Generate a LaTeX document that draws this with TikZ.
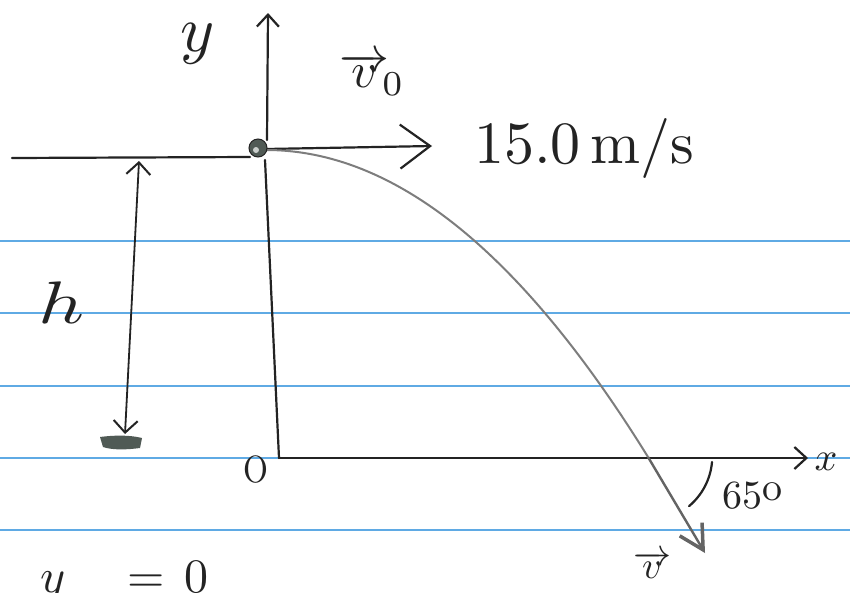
\documentclass[tikz,border=0pt]{standalone}
\usetikzlibrary{arrows.meta}
\definecolor{rulecol}{RGB}{95,170,228}
\definecolor{ink}{RGB}{35,35,35}
\definecolor{pencil}{RGB}{125,125,125}
\definecolor{blob}{RGB}{80,90,85}
\begin{document}
\begin{tikzpicture}[x=1pt,y=-1pt,
  inkline/.style={draw=ink, line width=2.2pt, line cap=round, line join=round},
  barbtip/.style={-{Straight Barb[length=12pt,width=22pt,line width=2.2pt]}},
  bigbarb/.style={-{Straight Barb[length=30pt,width=44pt,line width=2.2pt]}},
  hbarbs/.style={{Straight Barb[length=12pt,width=24pt,line width=2pt]}-{Straight Barb[length=12pt,width=24pt,line width=2pt]}},
  trajline/.style={draw=pencil, line width=2pt},
  varrow/.style={draw=pencil!80!black, line width=2.4pt, -{Straight Barb[length=24pt,width=26pt,line width=3.5pt]}},
  lbl/.style={text=ink, inner sep=0pt}]
\useasboundingbox (0,0) rectangle (850,592);
\clip (0,0) rectangle (850,592);
\fill[white] (0,0) rectangle (850,592);
% ruled paper
\foreach \yy in {241,313,386,458,530}
  \draw[rulecol, line width=1.6pt] (0,\yy) -- (850,\yy);
% key points
\coordinate (topL) at (12,158);
\coordinate (ballL) at (250,157);
\coordinate (yBase) at (267,140);
\coordinate (yTop) at (268,13);
\coordinate (ballBot) at (265,160);
\coordinate (corner) at (279,458);
\coordinate (xEnd) at (808,458);
\coordinate (v0Start) at (266,149);
\coordinate (v0End) at (432,146);
\coordinate (hTop) at (139,161);
\coordinate (hBot) at (125,434);
\coordinate (trStart) at (266,150);
\coordinate (hit) at (648,457);
\coordinate (vEnd) at (705,553);
% lines
\draw[inkline] (topL) -- (ballL);
\draw[inkline, barbtip] (yBase) -- (yTop);
\draw[inkline] (ballBot) -- (corner);
\draw[inkline, barbtip] (corner) -- (xEnd);
\draw[inkline, bigbarb] (v0Start) -- (v0End);
\draw[ink, line width=1.8pt, hbarbs] (hBot) -- (hTop);
% ground
\fill[blob] (100,437) .. controls (115,435) and (130,435) .. (142,438) -- (140,448) .. controls (125,450) and (112,450) .. (103,447) -- cycle;
% trajectory
\draw[trajline] (trStart) .. controls (394.7,150) and (521.3,252.3) .. (hit);
\draw[varrow] (hit) -- (vEnd);
% ball
\node[circle, fill=blob, draw=ink, line width=1pt, minimum size=18pt, inner sep=0pt] (ball) at (258,148) {};
\fill[white!70!blob] (256,150) circle (3pt);
% angle arc
\draw[inkline] (712,462) arc[start angle=5, end angle=50, radius=65];
% labels
\node[lbl] (ylab) at (198,44) {\scalebox{6.5}{$y$}};
\node[lbl] (v0lab) at (372,74) {\scalebox{5}{$\overrightarrow{v}_{\!0}$}};
\node[lbl, anchor=west] (speed) at (474,148) {\scalebox{6}{15.0\,m/s}};
\node[lbl] (hlab) at (62,303) {\scalebox{8}[6]{$h$}};
\node[lbl] (olab) at (256,470) {\scalebox{3.2}[3.8]{O}};
\node[lbl] (xlab) at (826,462) {\scalebox{4}{$x$}};
\node[lbl, anchor=west] (anglab) at (722,496) {\scalebox{4}{65\raisebox{0.2em}{o}}};
\node[lbl] (vlab) at (652,565) {\scalebox{3.8}{$\overrightarrow{v}$}};
\node[lbl, anchor=base west] (ylab2) at (40,592) {\scalebox{4.8}{$y$\hspace{13pt}$=$\hspace{4pt}$0$}};
\end{tikzpicture}
\end{document}
